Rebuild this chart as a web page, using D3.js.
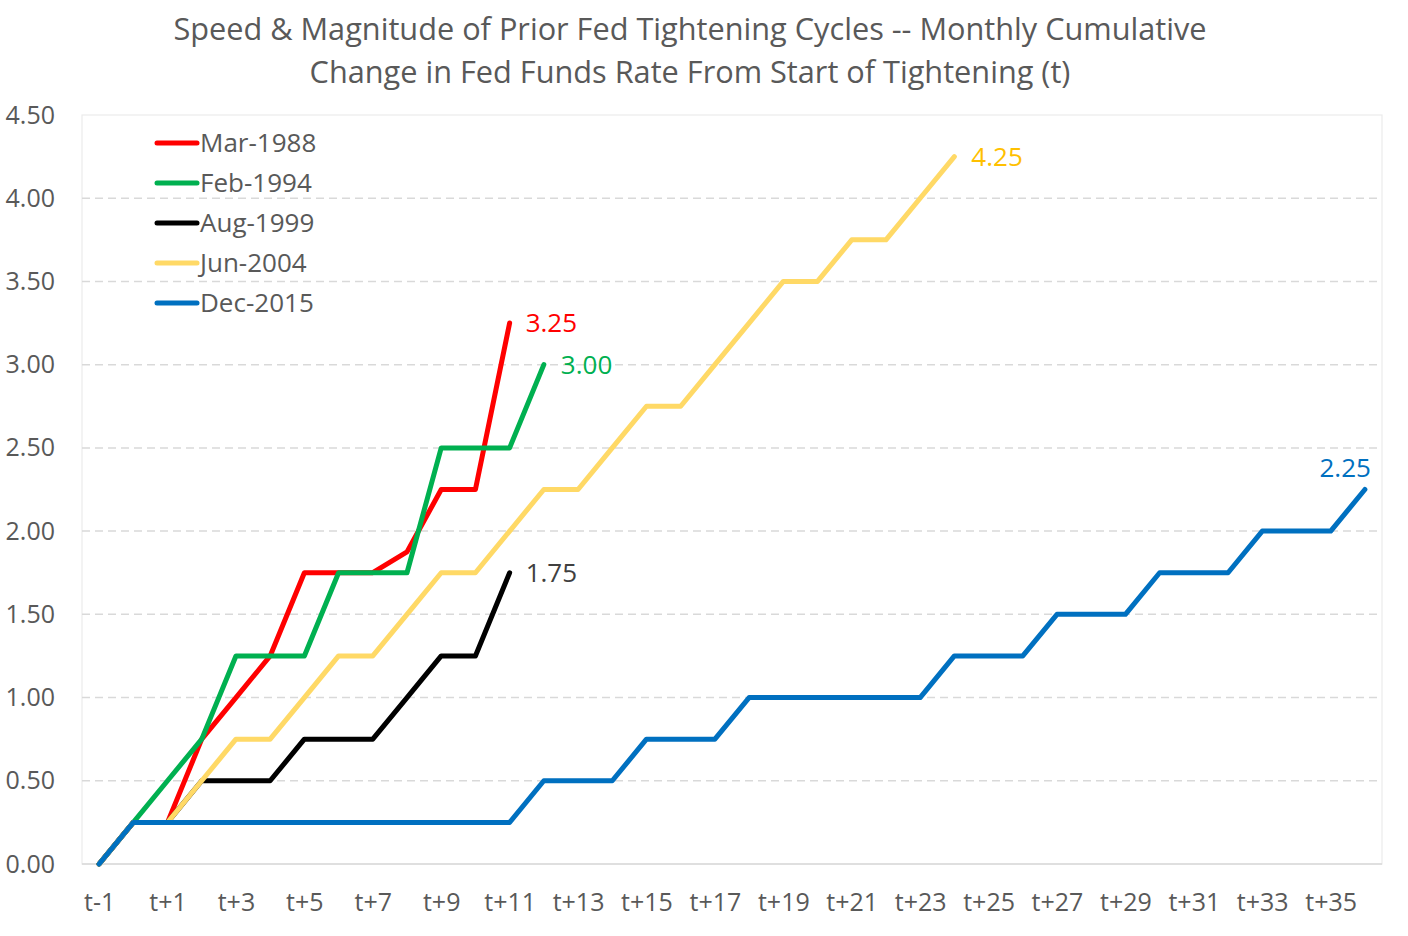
<!DOCTYPE html>
<html>
<head>
<meta charset="utf-8">
<script src="https://cdn.jsdelivr.net/npm/d3@7"></script>
<style>
  body { margin: 0; background: white; }
  text { font-family: "Open Sans", sans-serif; }
</style>
</head>
<body>
<div id="chart"></div>
<script>
// months from start of tightening
const months = ["t-1", "t"].concat(d3.range(1, 37).map(k => "t+" + k));

const mar1988 = [0, 0.25, 0.25, 0.75, 1.00, 1.25, 1.75, 1.75, 1.75, 1.875, 2.25, 2.25, 3.25];
const feb1994 = [0, 0.25, 0.50, 0.75, 1.25, 1.25, 1.25, 1.75, 1.75, 1.75, 2.50, 2.50, 2.50, 3.00];
const aug1999 = [0, 0.25, 0.25, 0.50, 0.50, 0.50, 0.75, 0.75, 0.75, 1.00, 1.25, 1.25, 1.75];
const jun2004 = [0, 0.25, 0.25, 0.50, 0.75, 0.75, 1.00, 1.25, 1.25, 1.50, 1.75, 1.75, 2.00,
  2.25, 2.25, 2.50, 2.75, 2.75, 3.00, 3.25, 3.50, 3.50, 3.75, 3.75, 4.00, 4.25];
const dec2015 = [0, 0.25, 0.25, 0.25, 0.25, 0.25, 0.25, 0.25, 0.25, 0.25, 0.25, 0.25, 0.25,
  0.50, 0.50, 0.50, 0.75, 0.75, 0.75, 1.00, 1.00, 1.00, 1.00, 1.00, 1.00, 1.25, 1.25, 1.25,
  1.50, 1.50, 1.50, 1.75, 1.75, 1.75, 2.00, 2.00, 2.00, 2.25];

const seriesNames = ["Mar-1988", "Feb-1994", "Aug-1999", "Jun-2004", "Dec-2015"];
const seriesValues = [mar1988, feb1994, aug1999, jun2004, dec2015];
const lineColors = ["#FF0000", "#00B050", "#000000", "#FFD966", "#0070C0"];
const labelColors = ["#FF0000", "#00B050", "#404040", "#FFC000", "#0070C0"];

const yTicks = [0, 0.5, 1, 1.5, 2, 2.5, 3, 3.5, 4, 4.5];

const W = 1408, H = 936;
const margin = { top: 115, left: 82, right: 26, bottom: 72 };

const svg = d3.select("#chart").append("svg")
  .attr("width", W).attr("height", H);

const x = d3.scalePoint()
  .domain(months)
  .range([margin.left, W - margin.right])
  .padding(0.5);

const y = d3.scaleLinear()
  .domain([0, 4.5])
  .range([H - margin.bottom, margin.top]);

// title
svg.append("text")
  .attr("x", 690).attr("y", 40)
  .attr("text-anchor", "middle")
  .style("font-size", "30.7px").style("fill", "#595959")
  .text("Speed & Magnitude of Prior Fed Tightening Cycles -- Monthly Cumulative");
svg.append("text")
  .attr("x", 690).attr("y", 83)
  .attr("text-anchor", "middle")
  .style("font-size", "30.7px").style("fill", "#595959")
  .text("Change in Fed Funds Rate From Start of Tightening (t)");

// plot area border
svg.append("rect")
  .attr("x", margin.left).attr("y", margin.top)
  .attr("width", W - margin.right - margin.left)
  .attr("height", H - margin.bottom - margin.top)
  .attr("fill", "none").attr("stroke", "#EBEBEB").attr("stroke-width", 1.2);

// gridlines
svg.append("g")
  .selectAll("line")
  .data(yTicks.filter(d => d > 0 && d < 4.5))
  .join("line")
    .attr("x1", margin.left).attr("x2", W - margin.right)
    .attr("y1", d => y(d)).attr("y2", d => y(d))
    .attr("stroke", "#D9D9D9").attr("stroke-width", 1.5)
    .attr("stroke-dasharray", "8,5");

// y axis
const yAxis = svg.append("g")
  .attr("transform", `translate(${margin.left},0)`)
  .call(d3.axisLeft(y).tickValues(yTicks).tickFormat(d3.format(".2f")).tickSize(0).tickPadding(27));
yAxis.select(".domain").remove();
yAxis.selectAll("text").style("font-size", "25px").style("fill", "#595959")
  .style("font-family", "Open Sans, sans-serif");

// x axis
const xAxis = svg.append("g")
  .attr("transform", `translate(0,${H - margin.bottom})`)
  .call(d3.axisBottom(x).tickValues(months.filter((d, i) => i % 2 === 0)).tickSize(0).tickPadding(29));
xAxis.select(".domain").attr("stroke", "#D9D9D9").attr("stroke-width", 1.5)
  .attr("d", `M${margin.left},0H${W - margin.right}`);
xAxis.selectAll("text").style("font-size", "25px").style("fill", "#595959")
  .style("font-family", "Open Sans, sans-serif");

// lines
const line = d3.line()
  .x((d, i) => x(months[i]))
  .y(d => y(d));

svg.append("g")
  .selectAll("path")
  .data(seriesValues)
  .join("path")
    .attr("d", d => line(d))
    .attr("fill", "none")
    .attr("stroke", (d, i) => lineColors[i])
    .attr("stroke-width", 5)
    .attr("stroke-linejoin", "round")
    .attr("stroke-linecap", "round");

// end labels
const labelOffsets = [[16, 9], [17, 9], [16, 9], [17, 9], [6, -13]];
svg.append("g")
  .selectAll("text")
  .data(seriesValues)
  .join("text")
    .attr("x", (d, i) => x(months[d.length - 1]) + labelOffsets[i][0])
    .attr("y", (d, i) => y(d[d.length - 1]) + labelOffsets[i][1])
    .attr("text-anchor", (d, i) => i === 4 ? "end" : "start")
    .style("font-size", "26px")
    .style("fill", (d, i) => labelColors[i])
    .text(d => d3.format(".2f")(d[d.length - 1]));

// legend
const legend = svg.append("g").attr("transform", "translate(155,143)");
const rows = legend.selectAll("g")
  .data(seriesNames)
  .join("g")
    .attr("transform", (d, i) => `translate(0,${i * 40})`);
rows.append("line")
  .attr("x1", 2).attr("x2", 42)
  .attr("stroke", (d, i) => lineColors[i])
  .attr("stroke-width", 5).attr("stroke-linecap", "round");
rows.append("text")
  .attr("x", 45).attr("y", 9)
  .style("font-size", "26px").style("fill", "#595959")
  .text(d => d);
</script>
</body>
</html>
